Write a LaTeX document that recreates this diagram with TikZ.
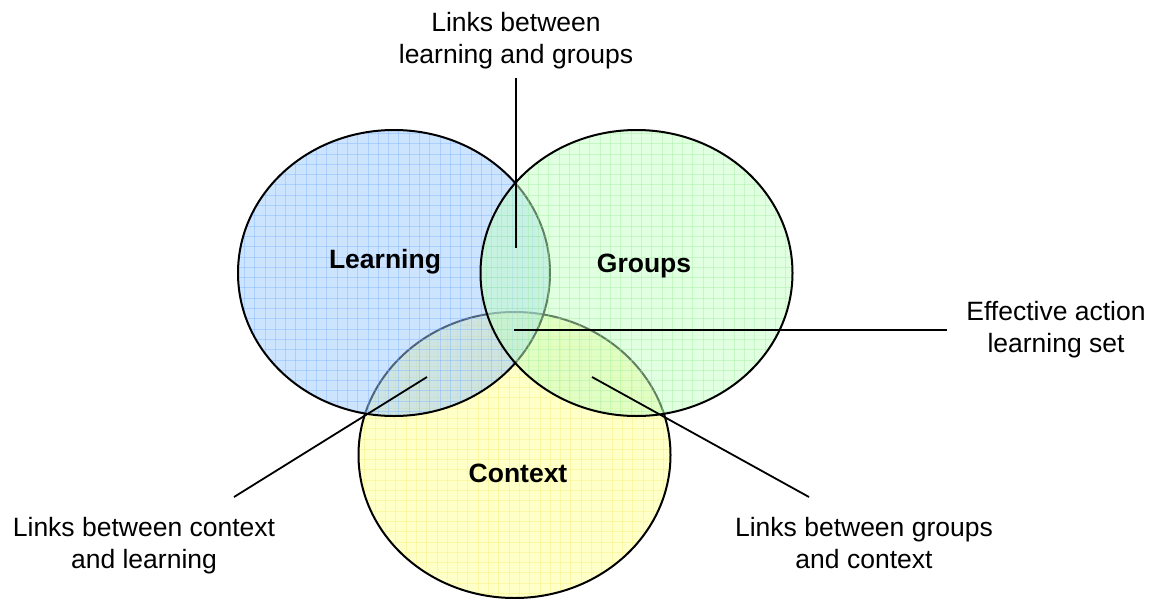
\documentclass[tikz,border=0pt]{standalone}
\usepackage{fontspec}
\setmainfont{Liberation Sans}
\definecolor{lfill}{RGB}{155,201,255}
\definecolor{lgrid}{RGB}{110,170,255}
\definecolor{gfill}{RGB}{195,255,195}
\definecolor{ggrid}{RGB}{150,235,150}
\definecolor{cfill}{RGB}{255,255,145}
\definecolor{cgrid}{RGB}{245,235,100}
\newcommand\vennset[4]{%
  \begin{scope}
    \clip (#1,#2) ellipse [x radius=156pt,y radius=143pt];
    \fill[#3,fill opacity=0.5] (#1,#2) ellipse [x radius=156pt,y radius=143pt];
    \foreach \k in {0,...,31}{
      \draw[#4,opacity=0.35,line width=0.7pt] ({#1-160+\k*10.3},{#2-150}) -- ++(0,300);
    }
    \foreach \k in {0,...,29}{
      \draw[#4,opacity=0.35,line width=0.7pt] ({#1-160},{#2-150+\k*10.3}) -- ++(320,0);
    }
  \end{scope}
  \draw[vennline] (#1,#2) ellipse [x radius=156pt,y radius=143pt];
}
\begin{document}
\begin{tikzpicture}[x=1pt,y=-1pt,
  vennline/.style={draw=black,line width=2pt},
  leadline/.style={draw=black,line width=1.8pt},
  notetext/.style={font=\fontsize{26.5}{31.6}\selectfont,align=center,anchor=base,inner sep=0pt},
  setname/.style={font=\fontsize{26.5}{31.6}\selectfont\bfseries,anchor=base,inner sep=0pt}]
\useasboundingbox (0,0) rectangle (1157,598);
% sets: context first, then learning, then groups on top
\vennset{514.5}{455}{cfill}{cgrid}
\vennset{394}{273}{lfill}{lgrid}
\vennset{636.5}{273}{gfill}{ggrid}
% set names
\node[setname] (nl) at (385,268) {Learning};
\node[setname] (ng) at (644,272) {Groups};
\node[setname] (nc) at (518,482) {Context};
% callout texts (anchor = baseline of last line)
\node[notetext] (tlg) at (516,63) {Links between\\learning and groups};
\node[notetext] (teff) at (1056,352) {Effective action\\learning set};
\node[notetext] (tcl) at (144,568) {Links between context\\and learning};
\node[notetext] (tgc) at (864,568) {Links between groups\\and context};
% leader end points
\coordinate (qlg) at (516,78);  \coordinate (plg) at (516,248);
\coordinate (qeff) at (947,330); \coordinate (peff) at (514,330);
\coordinate (qcl) at (234,497); \coordinate (pcl) at (427,377);
\coordinate (qgc) at (809,497); \coordinate (pgc) at (592,377);
\draw[leadline] (qlg) -- (plg);
\draw[leadline] (qeff) -- (peff);
\draw[leadline] (qcl) -- (pcl);
\draw[leadline] (qgc) -- (pgc);
\end{tikzpicture}
\end{document}
